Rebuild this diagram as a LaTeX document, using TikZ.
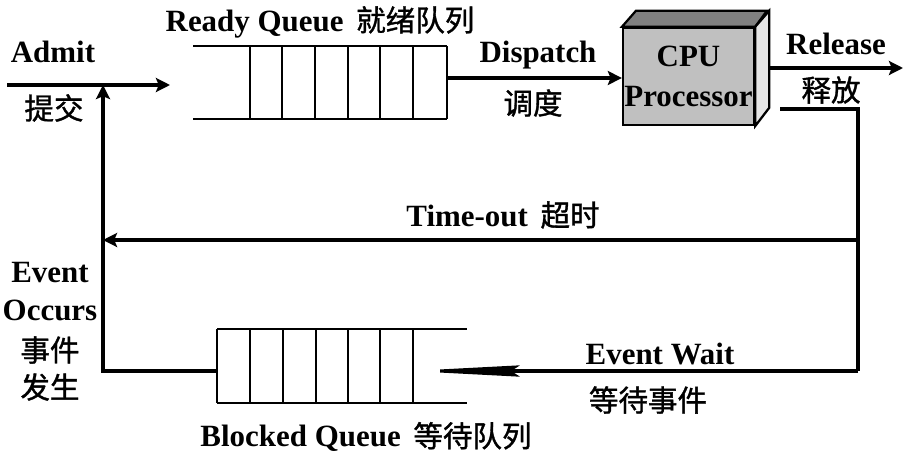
\documentclass[tikz,border=0pt]{standalone}
\usepackage{fontspec}
\setmainfont{Liberation Serif}
\newfontfamily\cjk[FakeBold=1.2]{Noto Sans CJK SC}
\usetikzlibrary{positioning,calc,arrows.meta}

\definecolor{cpufront}{RGB}{192,192,192}
\definecolor{cputop}{RGB}{128,128,128}
\definecolor{cpuside}{RGB}{230,230,230}

\tikzset{
  lbl/.style={font=\bfseries\fontsize{22}{25}\selectfont, inner sep=0pt},
  zh/.style={font=\cjk\fontsize{21}{24}\selectfont, inner sep=0pt},
  wire/.style={line width=2.2pt},
  flow/.style={wire, -{Stealth[length=10pt,width=10pt,inset=2pt]}},
  qline/.style={line width=2pt},
}
\newcommand{\zhgap}{\hspace{9pt}\cjk\mdseries\fontsize{21}{24}\selectfont}

\begin{document}
\begin{tikzpicture}[x=0.025cm,y=-0.025cm]
    \useasboundingbox (0,0) rectangle (905,454);

    % ready queue
    \draw[qline] (193,46) -- (447,46) (193,119) -- (447,119);
    \foreach \x in {250,282,315,348,380,413,447}
      \draw[qline] (\x,46) -- (\x,119);
    \coordinate (rqin)  at (170,85);
    \coordinate (rqout) at (447,78);

    % blocked queue
    \draw[qline] (217,329) -- (467,329) (217,403) -- (467,403);
    \foreach \x in {217,250,283,316,348,380,413}
      \draw[qline] (\x,329) -- (\x,403);
    \coordinate (bqin)  at (410,371);
    \coordinate (bqout) at (217,371);

    % cpu
    \node[draw, line width=1.6pt, fill=cpufront, minimum width=3.275cm,
          minimum height=2.425cm, inner sep=0pt, align=center,
          font=\bfseries\fontsize{22}{26}\selectfont] (cpu) at (688.5,76.5)
          {CPU\\[2pt]Processor};
    \draw[line width=1.6pt, fill=cputop] (cpu.north west) -- ++(14,-16)
      -- ++(131,0) -- (cpu.north east) -- cycle;
    \draw[line width=1.6pt, fill=cpuside] (cpu.north east) -- ++(14,-16)
      -- ++(0,97) -- (cpu.south east) -- cycle;

    % corners of the loop
    \coordinate (admit)  at (7,85);
    \coordinate (relin)  at (768,68);
    \coordinate (relout) at (903,68);
    \coordinate (back)   at (780,109);
    \coordinate (rtop)   at (858,109);
    \coordinate (rmid)   at (858,240);
    \coordinate (rbot)   at (858,371);
    \coordinate (lmid)   at (103,240);
    \coordinate (lbot)   at (103,371);
    \coordinate (ltop)   at (103,85);

    % connectors
    \draw[flow] (admit) -- (rqin);
    \draw[flow] (rqout) -- (rqout -| cpu.west);
    \draw[flow] (relin) -- (relout);
    \draw[wire] (back) -- (rtop) -- (rbot);
    \draw[flow] (rmid) -- (lmid);
    \draw[wire, -{Stealth[length=78pt,width=8pt,inset=6pt]}] (rbot) -- (bqin);
    \draw[flow] (bqout) -- (lbot) -- (ltop);

    % labels
    \node[lbl] (admitL)   at (53,52)   {Admit};
    \node[zh]  (admitZ)   at (54,108)  {提交};
    \node[lbl] (readyL)   at (320,22)  {Ready Queue\zhgap 就绪队列};
    \node[lbl] (dispL)    at (538,55)  {Dispatch};
    \node[zh]  (dispZ)    at (533,103) {调度};
    \node[lbl] (relL)     at (836,44)  {Release};
    \node[zh]  (relZ)     at (831,90)  {释放};
    \node[lbl] (toutL)    at (503,215) {Time-out\zhgap 超时};
    \node[lbl] (ewaitL)   at (660,354) {Event Wait};
    \node[zh]  (ewaitZ)   at (648,400) {等待事件};
    \node[lbl] (blockL)   at (366,437) {Blocked Queue\zhgap 等待队列};
    \node[lbl] (evL)      at (50,273)  {Event};
    \node[lbl] (occL)     at (50,310)  {Occurs};
    \node[zh]  (occZ)     at (50,350)  {事件};
    \node[zh]  (occZ2)    at (50,387)  {发生};
\end{tikzpicture}
\end{document}
